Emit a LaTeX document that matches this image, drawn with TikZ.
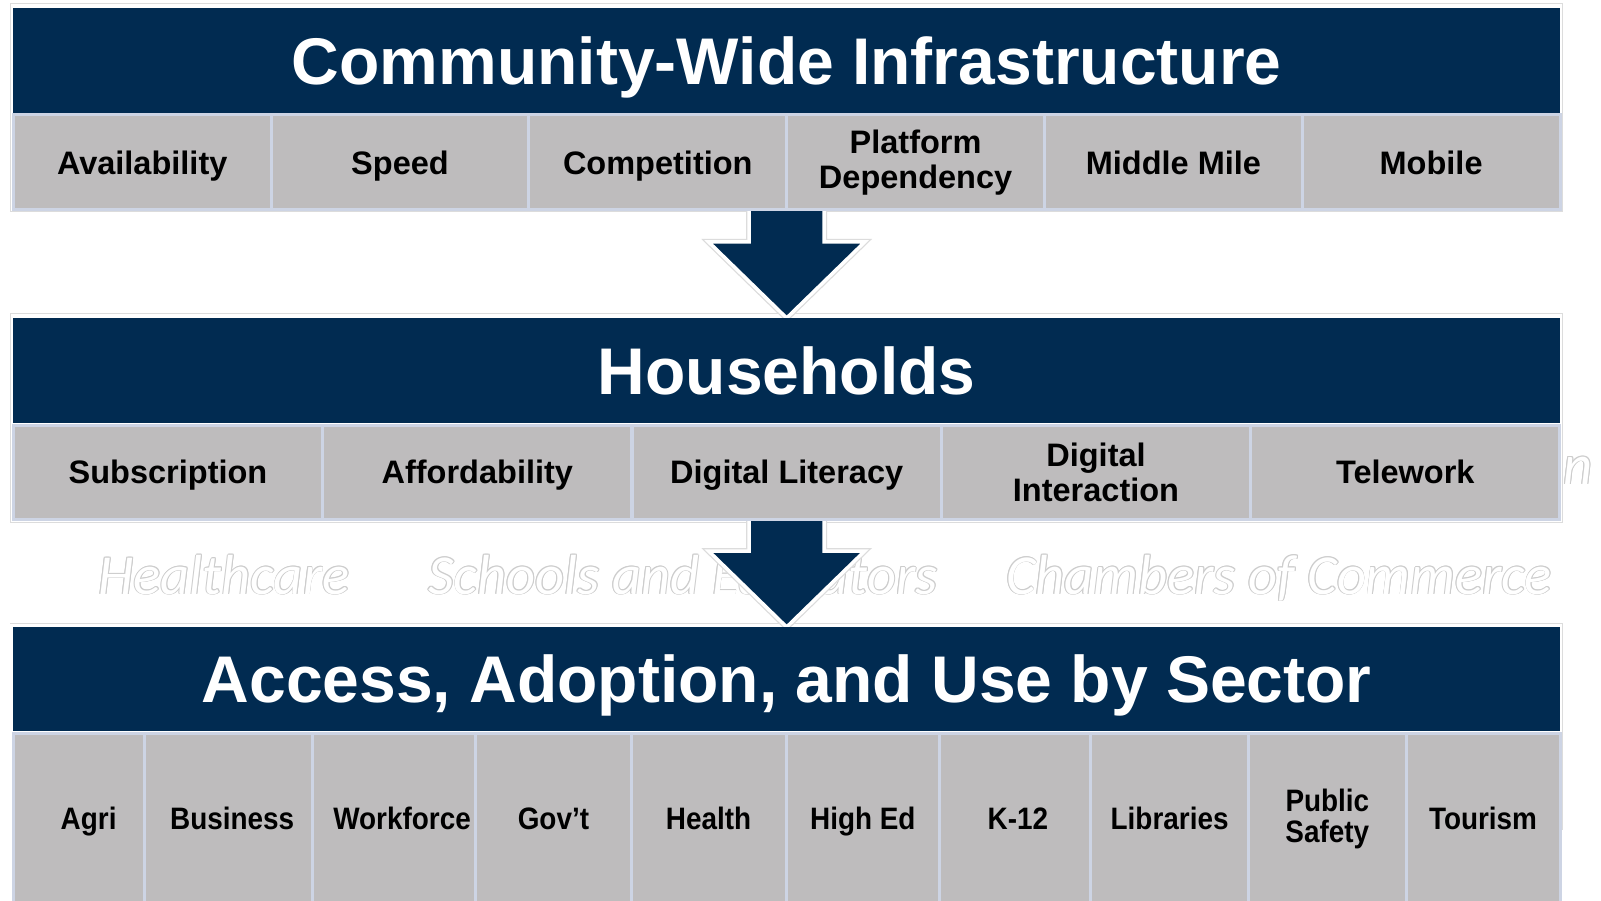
\documentclass[tikz,border=0pt]{standalone}
\usepackage{fontspec}
\setmainfont{Liberation Sans}
\newfontfamily\narrowfont[FakeStretch=0.9]{Liberation Sans}
\newfontfamily\fadedfont{Carlito}
\usetikzlibrary{calc,backgrounds}
\definecolor{navy}{HTML}{012B51}
\definecolor{cellgray}{HTML}{BEBCBD}
\definecolor{cellline}{HTML}{CDD4E4}
\definecolor{framegray}{HTML}{DCDCDC}
\definecolor{outlinegray}{HTML}{CDCDCD}
\newcommand\mkghost[3]{%
  \foreach \gx/\gy in {0.9/0,-0.9/0,0/0.9,0/-0.9,0.65/0.65,-0.65/0.65,0.65/-0.65,-0.65/-0.65}{%
    \node[ghost, text=outlinegray, xshift=\gx pt, yshift=\gy pt] at (#2) {#3};}
  \node[ghost, text=white] (#1) at (#2) {#3};}
\begin{document}
\begin{tikzpicture}[x=1pt,y=-1pt,
  header/.style={fill=navy, draw=none, inner sep=0pt, outer sep=0pt,
    minimum width=1546.7pt, text=white,
    font=\fontsize{66}{70}\selectfont\bfseries, text height=47.3pt, text depth=0pt},
  cell/.style={fill=cellgray, draw=cellline, line width=3pt, inner sep=0pt,
    outer sep=0pt, align=center, text=black},
  cellA/.style={cell, minimum width=257.8pt, minimum height=95pt,
    font=\fontsize{32.5}{35}\selectfont\bfseries},
  cellB/.style={cell, minimum width=309.34pt, minimum height=94pt,
    font=\fontsize{32.5}{35}\selectfont\bfseries},
  cellC/.style={cell, minimum height=171pt,
    font=\fontsize{31}{31}\selectfont\narrowfont\bfseries},
  oneA/.style={text height=23.3pt, text depth=0pt},
  oneC/.style={text height=22.2pt, text depth=0pt},
  ghost/.style={anchor=base, inner sep=0pt,
    font=\fontsize{56.5}{60}\selectfont\fadedfont\itshape},
  frame/.style={draw=framegray, line width=1pt},
  arrowshape/.style={fill=navy, draw=white, line width=3.5pt, line join=miter,
    preaction={draw=framegray, line width=6pt}}]
\useasboundingbox (0,0) rectangle (1601,901);

% Block 1
\node[header, minimum height=105pt] (h1) at (786.65,60.5) {Community-Wide Infrastructure};
\node[cellA, oneA] (r1c1) at (142.2,162.5) {Availability};
\node[cellA, oneA] (r1c2) at (400,162.5) {Speed};
\node[cellA, oneA] (r1c3) at (657.8,162.5) {Competition};
\node[cellA] (r1c4) at (915.6,162.5) {Platform\\Dependency};
\node[cellA, oneA] (r1c5) at (1173.4,162.5) {Middle Mile};
\node[cellA, oneA] (r1c6) at (1431.1,162.5) {Mobile};

% Block 2
\node[header, minimum height=105pt] (h2) at (786.65,370.5) {Households};
\node[cellB, oneA] (r2c1) at (168,472) {Subscription};
\node[cellB, oneA] (r2c2) at (477.3,472) {Affordability};
\node[cellB, oneA] (r2c3) at (786.7,472) {Digital Literacy};
\node[cellB] (r2c4) at (1096,472) {Digital\\Interaction};
\node[cellB, oneA] (r2c5) at (1405.3,472) {Telework};

% Block 3
\node[header, minimum height=104pt] (h3) at (786.65,679) {Access, Adoption, and Use by Sector};
\node[cellC, oneC, minimum width=130.7pt] (r3c1) at (78.65,818.5) {\hspace*{20pt}Agri};
\node[cellC, oneC, minimum width=168.4pt] (r3c2) at (228.2,818.5) {\hspace*{8pt}Business};
\node[cellC, oneC, minimum width=163.4pt] (r3c3) at (394.1,818.5) {\hspace*{16pt}Workforce};
\node[cellC, oneC, minimum width=155.2pt] (r3c4) at (553.4,818.5) {Gov’t};
\node[cellC, oneC, minimum width=155.2pt] (r3c5) at (708.6,818.5) {Health};
\node[cellC, oneC, minimum width=153.2pt] (r3c6) at (862.8,818.5) {High Ed};
\node[cellC, oneC, minimum width=151.1pt] (r3c7) at (1014.95,818.5) {\hspace*{6pt}K-12};
\node[cellC, oneC, minimum width=158.2pt] (r3c8) at (1169.6,818.5) {Libraries};
\node[cellC, minimum width=157.3pt] (r3c9) at (1327.35,818.5) {Public\\Safety};
\node[cellC, oneC, minimum width=154pt] (r3c10) at (1483,818.5) {Tourism};

\begin{pgfonlayer}{background}
  \fill[white] (0,0) rectangle (1601,901);
  % faint table frames
  \draw[frame] (10,3.5) rectangle (1562.7,212);
  \draw[frame] (10,314) rectangle (1562.7,522);
  \draw[frame] (10,623) -- (1562.7,623) -- (1562.7,830);
  % faded outlined words
  \mkghost{ghA}{224,594}{Healthcare}
  \mkghost{ghB}{683,594}{Schools and Educators}
  \mkghost{ghC}{1279,594}{Chambers of Commerce}
  \mkghost{ghD}{1578,484}{n}
  % arrows
  \coordinate (a1top) at ($(h1.center |- r1c1.south)+(0,-8)$);
  \coordinate (a1tip) at (h2.north);
  \draw[arrowshape] ($(a1top)+(-37.5,0)$) -- ($(a1tip)+(-37.5,-76)$) -- ($(a1tip)+(-78,-76)$)
     -- (a1tip) -- ($(a1tip)+(78,-76)$) -- ($(a1tip)+(37.5,-76)$) -- ($(a1top)+(37.5,0)$) -- cycle;
  \coordinate (a2top) at ($(h2.center |- r2c1.south)+(0,-8)$);
  \coordinate (a2tip) at (h3.north);
  \draw[arrowshape] ($(a2top)+(-37.5,0)$) -- ($(a2tip)+(-37.5,-76)$) -- ($(a2tip)+(-78,-76)$)
     -- (a2tip) -- ($(a2tip)+(78,-76)$) -- ($(a2tip)+(37.5,-76)$) -- ($(a2top)+(37.5,0)$) -- cycle;
\end{pgfonlayer}
\end{tikzpicture}
\end{document}
